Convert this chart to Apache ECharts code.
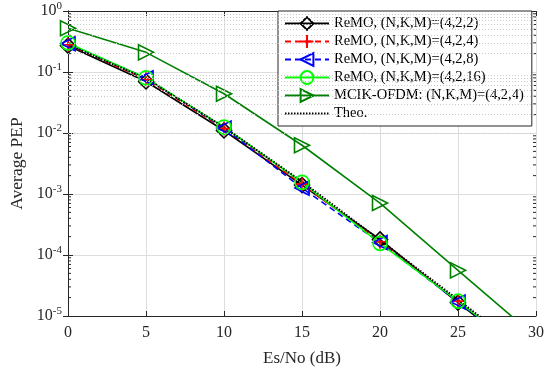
<!DOCTYPE html>
<html>
<head>
<meta charset="utf-8">
<script src="https://cdn.jsdelivr.net/npm/echarts@6/dist/echarts.min.js"></script>
<style>
  html, body { margin: 0; padding: 0; background: #fff; }
  #chart { width: 559px; height: 368px; }
</style>
</head>
<body>
<div id="chart"></div>
<script>
// Es/No in dB (last point lies below the plot and is clipped)
var snr = [0, 5, 10, 15, 20, 25, 30];

var remo422 = [0.27, 0.07, 0.0110, 0.00140, 1.8e-4, 1.65e-5, 1.7e-6];
var remo424 = [0.28, 0.076, 0.0118, 0.00145, 1.65e-4, 1.75e-5, 1.8e-6];
var remo428 = [0.29, 0.08, 0.0121, 0.00125, 1.6e-4, 1.7e-5, 1.8e-6];
var remo4216 = [0.30, 0.08, 0.0125, 0.00155, 1.55e-4, 1.75e-5, 1.8e-6];
var mcik = [0.52, 0.21, 0.044, 0.0063, 7.1e-4, 5.6e-5, 4.5e-6];
var theo = [0.28, 0.078, 0.0125, 0.0016, 1.75e-4, 1.85e-5, 1.9e-6];

var names = [
  'ReMO, (N,K,M)=(4,2,2)',
  'ReMO, (N,K,M)=(4,2,4)',
  'ReMO, (N,K,M)=(4,2,8)',
  'ReMO, (N,K,M)=(4,2,16)',
  'MCIK-OFDM: (N,K,M)=(4,2,4)',
  'Theo.'
];

// minor log grid lines 2..9 x 10^k
var minorGrid = [];
for (var k = -5; k < 0; k++) {
  for (var m = 2; m <= 9; m++) minorGrid.push(m * Math.pow(10, k));
}

function pairs(ys) {
  return snr.map(function (x, i) { return [x, ys[i]]; });
}

var font = 'Liberation Serif';
var axisColor = '#262626';
var textColor = '#262626';

function mk(name, ys, color, symbol, rotate, dash, size) {
  return {
    name: name,
    type: 'line',
    data: pairs(ys),
    symbol: symbol,
    symbolSize: size,
    symbolRotate: rotate,
    showSymbol: symbol !== 'none',
    clip: true,
    z: 3,
    lineStyle: { color: color, width: 1.6, type: dash },
    itemStyle: { color: 'transparent', borderColor: color, borderWidth: 1.6 },
    emphasis: { disabled: true },
    animation: false
  };
}

var chart = echarts.init(document.getElementById('chart'));

var legendData = names.map(function (n) { return { name: n }; });
legendData[5].itemStyle = { opacity: 0 };

var option = {
  animation: false,
  textStyle: { fontFamily: font },
  grid: { left: 68, right: 23, top: 11, bottom: 52, outerBoundsMode: 'none', containLabel: false },
  legend: {
    data: legendData,
    orient: 'vertical',
    left: 278,
    top: 11,
    width: 257,
    itemWidth: 44,
    itemHeight: 16,
    itemGap: 3,
    padding: [5, 8, 5, 6],
    backgroundColor: '#fff',
    borderColor: axisColor,
    borderWidth: 1,
    borderRadius: 0,
    textStyle: { fontFamily: font, fontSize: 14.5, color: '#000' }
  },
  xAxis: [{
    type: 'value',
    min: 0, max: 30, interval: 5,
    name: 'Es/No (dB)',
    nameLocation: 'middle',
    nameGap: 34,
    nameTextStyle: { fontFamily: font, fontSize: 17, color: textColor },
    axisLine: { lineStyle: { color: axisColor, width: 1 } },
    axisTick: { inside: true, length: 5, lineStyle: { color: axisColor } },
    axisLabel: { fontFamily: font, fontSize: 16, color: textColor, margin: 9 },
    splitLine: { show: true, lineStyle: { color: '#dedede', width: 1 } }
  }, {
    type: 'value', position: 'top',
    min: 0, max: 30, interval: 5,
    axisLine: { show: true, lineStyle: { color: axisColor, width: 1 } },
    axisTick: { inside: true, length: 5, lineStyle: { color: axisColor } },
    axisLabel: { show: false },
    splitLine: { show: false }
  }],
  yAxis: [{
    type: 'log',
    logBase: 10,
    min: 1e-5, max: 1,
    name: 'Average PEP',
    nameLocation: 'middle',
    nameGap: 42,
    nameTextStyle: { fontFamily: font, fontSize: 17.5, color: textColor },
    axisLine: { show: true, lineStyle: { color: axisColor, width: 1 } },
    axisTick: { inside: true, length: 5, lineStyle: { color: axisColor } },
    axisLabel: {
      margin: 6,
      formatter: function (v) {
        var e = Math.round(Math.log10(v));
        return '{b|10}{s|' + e + '}';
      },
      rich: {
        b: { fontFamily: font, fontSize: 16, color: textColor },
        s: { fontFamily: font, fontSize: 11, color: textColor, verticalAlign: 'top', padding: [0, 0, 9, 0] }
      }
    },
    splitLine: { show: true, lineStyle: { color: '#dedede', width: 1 } }
  }, {
    type: 'log', logBase: 10, position: 'right',
    min: 1e-5, max: 1,
    axisLine: { show: true, lineStyle: { color: axisColor, width: 1 } },
    axisTick: { inside: true, length: 5, lineStyle: { color: axisColor } },
    axisLabel: { show: false },
    splitLine: { show: false }
  }],
  series: [
    {
      name: 'grid',
      type: 'line',
      data: [],
      silent: true,
      z: 0,
      markLine: {
        silent: true,
        symbol: 'none',
        label: { show: false },
        animation: false,
        lineStyle: { color: '#c8c8c8', type: [1, 2], width: 1 },
        data: minorGrid.map(function (v) { return { yAxis: v }; })
      }
    },
    {
      // minor tick marks on the left and right axis lines
      name: 'minorTicks',
      type: 'custom',
      silent: true,
      z: 2,
      data: minorGrid.map(function (v) { return [0, v]; }),
      renderItem: function (params, api) {
        var p = api.coord([0, api.value(1)]);
        var q = api.coord([30, api.value(1)]);
        var st = { stroke: axisColor, lineWidth: 1 };
        return {
          type: 'group',
          children: [
            { type: 'line', shape: { x1: p[0], y1: p[1], x2: p[0] + 3, y2: p[1] }, style: st },
            { type: 'line', shape: { x1: q[0], y1: q[1], x2: q[0] - 3, y2: q[1] }, style: st }
          ]
        };
      }
    },
    mk(names[0], remo422, '#000000', 'diamond', 0, 'solid', 15),
    mk(names[1], remo424, '#ff0000', 'path://M0,-10 L0,10 M-10,0 L10,0', 0, [6, 4], 14),
    mk(names[2], remo428, '#0000ff', 'triangle', 90, [6, 4], 14),
    mk(names[3], remo4216, '#00ff00', 'circle', 0, 'solid', 14),
    mk(names[4], mcik, '#008000', 'triangle', -90, 'solid', 15),
    mk(names[5], theo, '#000000', 'none', 0, [1.5, 1.5], 0)
  ]
};
option.series[7].lineStyle.width = 2;

chart.setOption(option);
</script>
</body>
</html>
